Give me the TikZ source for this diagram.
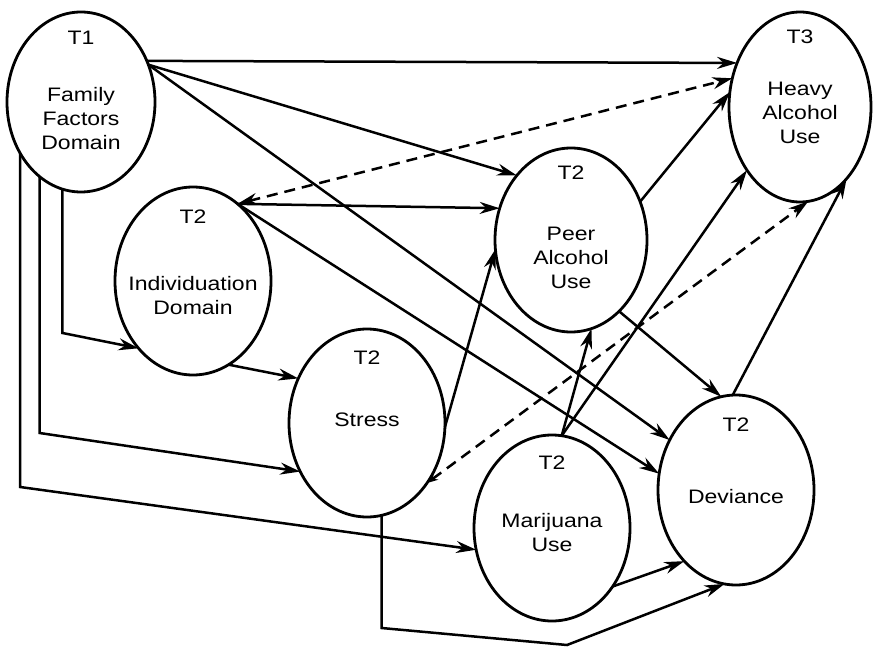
\documentclass[tikz,border=0pt]{standalone}
\usepackage{fontspec}
\setmainfont{Liberation Sans}[FakeStretch=1.18]
\usetikzlibrary{arrows.meta,shapes.geometric}

\begin{document}
\begin{tikzpicture}[x=1pt,y=-1pt,>={Stealth[length=20pt,width=12pt]},
 var/.style={ellipse,draw,line width=2.8pt,minimum width=156pt,minimum height=188pt,inner sep=0pt,outer sep=0pt},
 lab/.style={align=center,font=\fontsize{19.5}{24}\selectfont,inner sep=0pt},
 ar/.style={->,line width=2.5pt},
 cor/.style={<->,line width=2.5pt,dash pattern=on 11pt off 7pt}]
 \useasboundingbox (0,0) rectangle (874,647);
 % latent variables
 \node[var,minimum width=148pt,minimum height=180pt] (fam) at (81,102) {};
 \node[var] (ind) at (193,281) {};
 \node[var] (str) at (367,423) {};
 \node[var,minimum width=152pt,minimum height=184pt] (peer) at (571,240) {};
 \node[var,minimum width=142pt,minimum height=190pt] (heavy) at (800,107) {};
 \node[var,minimum height=186pt] (mar) at (552,528) {};
 \node[var,minimum height=190pt] (dev) at (736,490) {};
 % labels
 \node[lab] (famT) at ([yshift=64pt]fam.center) {T1};
 \node[lab] (famL) at ([yshift=-17pt]fam.center) {Family\\Factors\\Domain};
 \node[lab] (indT) at ([yshift=64pt]ind.center) {T2};
 \node[lab] (indL) at ([yshift=-15pt]ind.center) {Individuation\\Domain};
 \node[lab] (strT) at ([yshift=65pt]str.center) {T2};
 \node[lab] (strL) at ([yshift=3pt]str.center) {Stress};
 \node[lab] (peerT) at ([yshift=67pt]peer.center) {T2};
 \node[lab] (peerL) at ([yshift=-18pt]peer.center) {Peer\\Alcohol\\Use};
 \node[lab] (heavyT) at ([yshift=70pt]heavy.center) {T3};
 \node[lab] (heavyL) at ([yshift=-6pt]heavy.center) {Heavy\\Alcohol\\Use};
 \node[lab] (marT) at ([yshift=65pt]mar.center) {T2};
 \node[lab] (marL) at ([yshift=-5pt]mar.center) {Marijuana\\Use};
 \node[lab] (devT) at ([yshift=65pt]dev.center) {T2};
 \node[lab] (devL) at ([yshift=-7pt]dev.center) {Deviance};
 % bends
 \coordinate (kI) at (0,333);
 \coordinate (kS) at (0,433);
 \coordinate (kM) at (0,487);
 \coordinate (kD) at (0,628);
 \coordinate (kE) at (567,645);
 % paths
 \draw[ar] (fam.32) -- (heavy.145);
 \draw[ar] (fam.29) -- (peer.130);
 \draw[ar] (fam.29) -- (dev.143);
 \draw[ar] (fam.258) -- (fam.258 |- kI) -- (ind.231);
 \draw[ar] (fam.241) -- (fam.241 |- kS) -- (str.216);
 \draw[ar] (fam.220) -- (fam.220 |- kM) -- (mar.196);
 \draw[cor] (ind.60) -- (heavy.157);
 \draw[ar] (ind.60) -- (peer.156);
 \draw[ar] (ind.60) -- (dev.168);
 \draw[ar] (ind.293) -- (str.147);
 \draw[ar] (str.357) -- (peer.187);
 \draw[cor,{Stealth[length=11pt,width=8pt]}->] (str.315) -- (heavy.275);
 \draw[ar] (str.279) -- (str.279 |- kD) -- (kE) -- (dev.263);
 \draw[ar] (peer.29) -- (heavy.168);
 \draw[ar] (peer.304) -- (dev.99);
 \draw[ar] (mar.84) -- (peer.283);
 \draw[ar] (mar.84) -- (heavy.230);
 \draw[ar] (mar.316) -- (dev.234);
 \draw[ar] (dev.92) -- (heavy.303);
\end{tikzpicture}
\end{document}
